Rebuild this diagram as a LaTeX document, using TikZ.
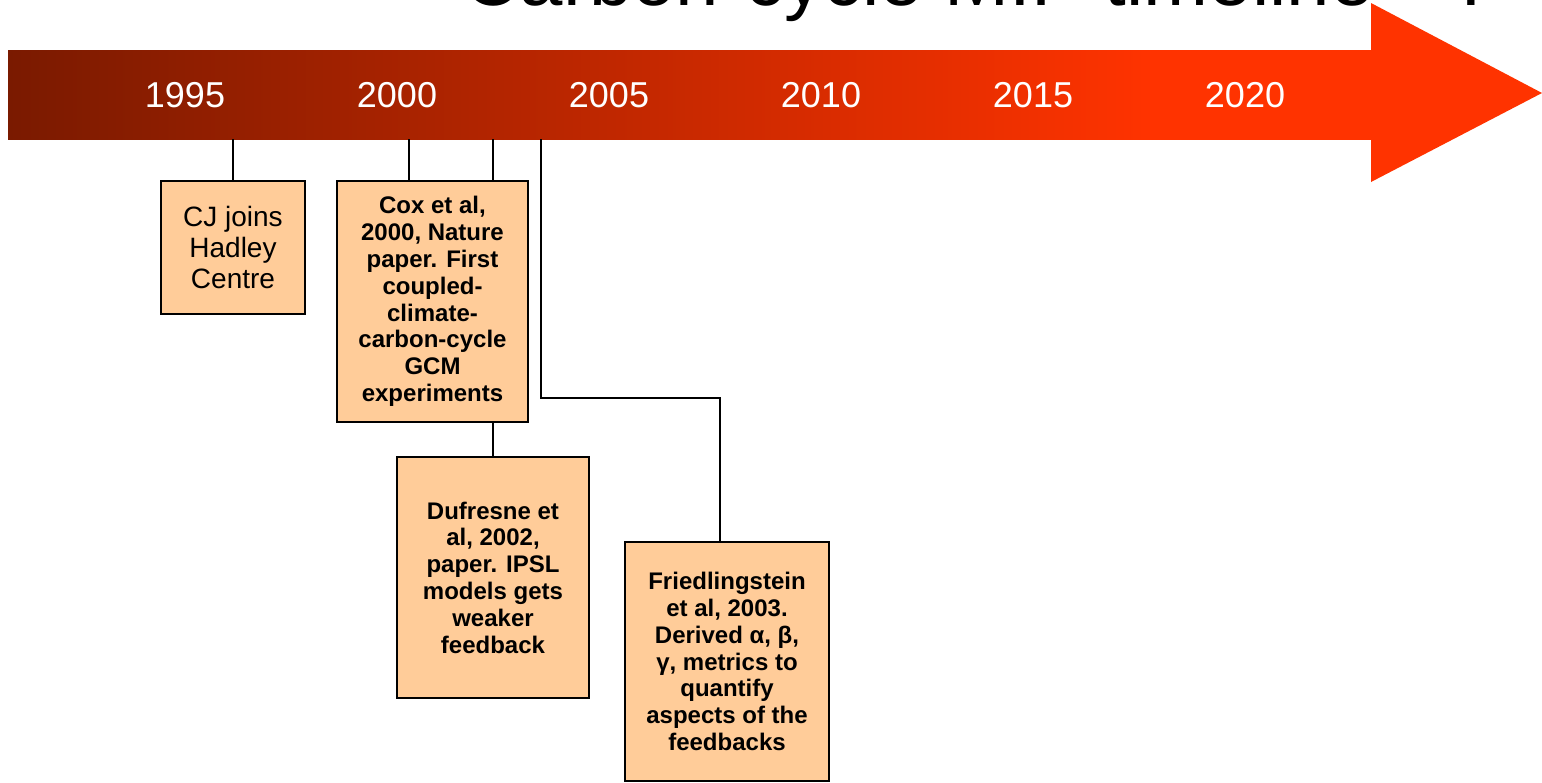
\documentclass[tikz,border=0pt]{standalone}
\usepackage{fontspec}
\setmainfont{Liberation Sans}
\usetikzlibrary{positioning}

\definecolor{bardark}{RGB}{122,26,0}
\definecolor{barred}{RGB}{255,51,0}
\definecolor{notefill}{RGB}{255,204,153}

\pgfdeclarehorizontalshading{barshade}{100bp}{color(0bp)=(bardark); color(25bp)=(bardark); color(67bp)=(barred); color(100bp)=(barred)}

\tikzset{
    timebar/.style={inner sep=0pt, shading=barshade},
    yearlabel/.style={inner sep=0pt, text=white, font=\fontsize{18}{20}\selectfont},
    note/.style={draw=black, line width=0.75pt, fill=notefill, align=center,
        inner sep=0pt, font=\fontsize{12}{13.4}\selectfont\bfseries},
    link/.style={line width=0.75pt},
}

\begin{document}
\begin{tikzpicture}[x=0.5pt, y=-0.5pt]
    \useasboundingbox (0,0) rectangle (1542,782);
    \clip (0,0) rectangle (1542,782);

    % title, cut off by the top edge
    \node[anchor=base west, inner sep=0pt, font=\fontsize{39}{40}\selectfont]
        (title) at (463,5) {Carbon-cycle MIP timeline -- I};

    % the time arrow
    \node[timebar, minimum width=682pt, minimum height=44.5pt] (bar) at (690,94.5) {};
    \path[fill=barred]
        (1371,3) -- (1542,93) -- (1371,182) -- cycle
    ;
    \foreach \yr [count=\i from 0] in {1995,2000,2005,2010,2015,2020}
        \node[yearlabel] (y\yr) at (185+212*\i, 95.5) {\yr};

    % events
    \node[note, font=\fontsize{14}{15.5}\selectfont, minimum width=72pt, minimum height=66.5pt]
        (cj) at (233,247.5) {CJ joins\\Hadley\\Centre};
    \node[note, minimum width=95.5pt, minimum height=120.5pt]
        (cox) at (432.5,301.5) {Cox et al,\\2000, Nature\\paper. First\\coupled-\\climate-\\carbon-cycle\\GCM\\experiments};
    \node[note, minimum width=96pt, minimum height=120.5pt]
        (duf) at (493,577.5) {Dufresne et\\al, 2002,\\paper. IPSL\\models gets\\weaker\\feedback};
    \node[note, minimum width=102pt, minimum height=119.5pt]
        (fried) at (727,661.5) {Friedlingstein\\et al, 2003.\\Derived α, β,\\γ, metrics to\\quantify\\aspects of the\\feedbacks};

    % connectors
    \coordinate (tap2000) at (409,139);
    \coordinate (tap2003) at (541,139);
    \coordinate (bend) at (720,398);
    \draw[link] (cj.north) -- (cj.north |- bar.south);
    \draw[link] (cox.north -| tap2000) -- (tap2000);
    \draw[link] (duf.north |- cox.north) -- (duf.north |- bar.south);
    \draw[link] (duf.north) -- (duf.north |- cox.south);
    \draw[link] (tap2003) |- (bend) -- (fried.north -| bend);
\end{tikzpicture}
\end{document}
